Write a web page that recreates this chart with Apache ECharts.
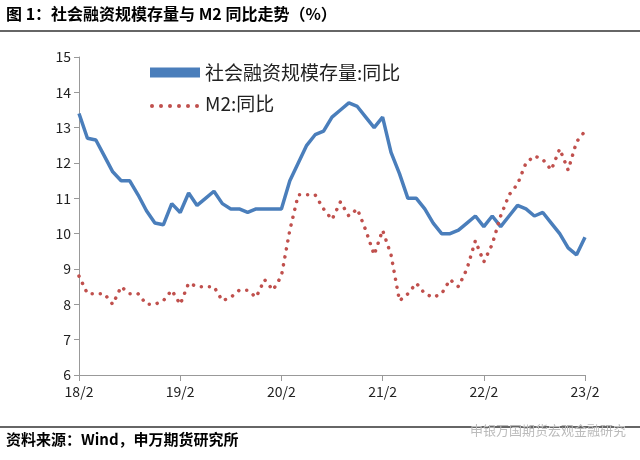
<!DOCTYPE html><html><head><meta charset="utf-8">
<script src="https://cdn.jsdelivr.net/npm/echarts@6/dist/echarts.min.js"></script>
<style>body{margin:0;background:#fff}#c{width:640px;height:460px}</style></head><body><div id="c"></div>
<script>
const months=[];for(let y=2018,m=2;months.length<61;){months.push((y%100)+'/'+m);m++;if(m>12){m=1;y++;}}
const tsf=[13.4,12.7,12.65,12.2,11.75,11.5,11.5,11.1,10.65,10.3,10.25,10.85,10.6,11.15,10.8,11.0,11.2,10.85,10.7,10.7,10.6,10.7,10.7,10.7,10.7,11.5,12.0,12.5,12.8,12.9,13.3,13.5,13.7,13.6,13.3,13.0,13.3,12.3,11.7,11.0,11.0,10.7,10.3,10.0,10.0,10.1,10.3,10.5,10.2,10.5,10.2,10.5,10.8,10.7,10.5,10.6,10.3,10.0,9.6,9.4,9.9];
const m2=[8.8,8.3,8.3,8.3,8.0,8.5,8.3,8.3,8.0,8.0,8.1,8.4,8.0,8.6,8.5,8.5,8.5,8.1,8.2,8.4,8.4,8.2,8.7,8.4,8.8,10.1,11.1,11.1,11.1,10.7,10.4,10.9,10.5,10.7,10.1,9.4,10.1,9.4,8.1,8.3,8.6,8.3,8.2,8.3,8.7,8.5,9.0,9.8,9.2,9.7,10.5,11.1,11.4,12.0,12.2,12.1,11.8,12.4,11.8,12.6,12.9];
const c=echarts.init(document.getElementById('c'));
const F='"Noto Sans CJK SC",sans-serif';
const dots=[0,1,2,3,4,5].map(i=>({type:'circle',shape:{cx:152+i*9,cy:106,r:2},style:{fill:'#c0504d'}}));
c.setOption({animation:false,
graphic:[{type:'text',left:6,top:6,style:{text:'图 1：社会融资规模存量与 M2 同比走势（%）',font:'bold 16px '+F,fill:'#000'}},
{type:'line',shape:{x1:0,y1:31,x2:640,y2:31},style:{stroke:'#333',lineWidth:1.5}},
{type:'line',shape:{x1:0,y1:427,x2:640,y2:427},style:{stroke:'#333',lineWidth:1.5}},
{type:'text',left:6,top:432,style:{text:'资料来源：Wind，申万期货研究所',font:'bold 15px '+F,fill:'#000'}},
{type:'text',right:14,top:424,style:{text:'申银万国期货宏观金融研究',font:'13px '+F,fill:'#bbb'}}].concat(dots),
legend:{orient:'vertical',left:145,top:58,itemGap:12,itemWidth:50,itemHeight:10,textStyle:{fontSize:19,fontFamily:F,color:'#222'},
data:[{name:'社会融资规模存量:同比',icon:'rect'},{name:'M2:同比',icon:'none'}]},
grid:{left:79,right:55,top:57,bottom:85},
xAxis:{type:'category',data:months,boundaryGap:false,axisLine:{lineStyle:{color:'#999'}},
axisTick:{interval:11,length:6,lineStyle:{color:'#999'}},axisLabel:{interval:11,color:'#222',fontSize:14,fontFamily:F,margin:10}},
yAxis:{type:'value',min:6,max:15,interval:1,splitLine:{show:false},axisLine:{show:true,lineStyle:{color:'#999'}},
axisTick:{show:true,inside:false,length:5,lineStyle:{color:'#999'}},axisLabel:{color:'#222',fontSize:14,fontFamily:F}},
series:[{name:'社会融资规模存量:同比',type:'line',data:tsf,symbol:'none',color:'#4a7ebb',lineStyle:{width:3.5,color:'#4a7ebb'}},
{name:'M2:同比',type:'line',data:m2,symbol:'none',color:'#c0504d',lineStyle:{width:3.5,type:[0.1,8],cap:'round',color:'#c0504d'}}]
});
</script></body></html>
